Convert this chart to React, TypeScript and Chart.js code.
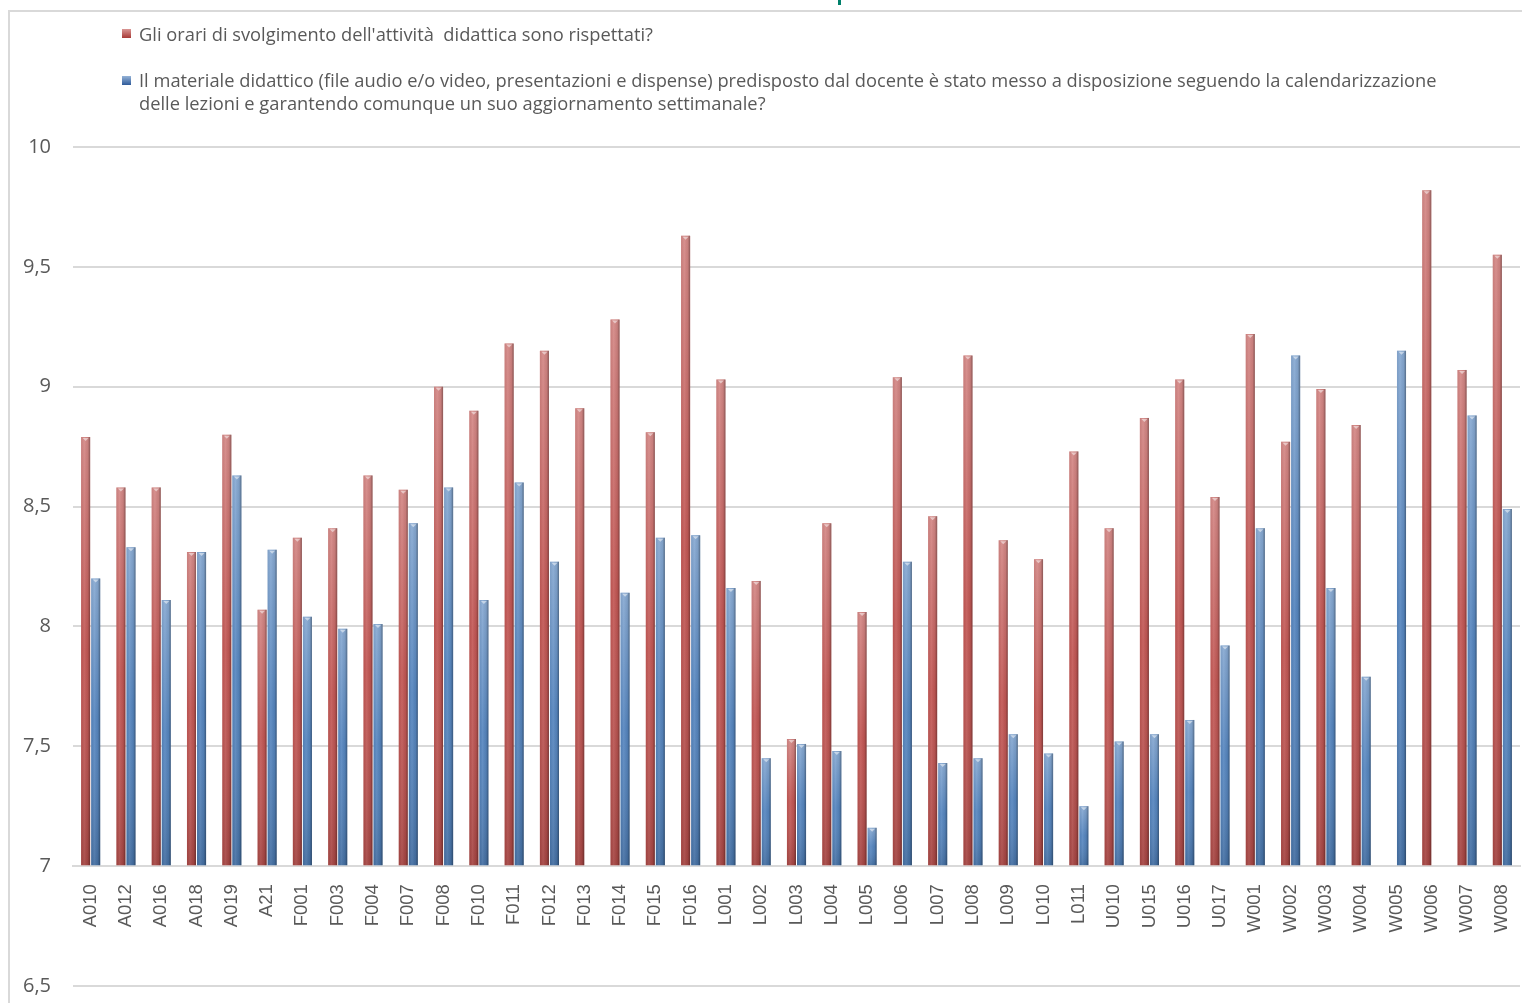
import { useEffect, useRef } from "react"
import { Chart, registerables } from "chart.js"

Chart.register(...registerables)

// categories (course codes)
const categories = [
  "A010", "A012", "A016", "A018", "A019", "A21", "F001", "F003", "F004", "F007",
  "F008", "F010", "F011", "F012", "F013", "F014", "F015", "F016", "L001", "L002",
  "L003", "L004", "L005", "L006", "L007", "L008", "L009", "L010", "L011", "U010",
  "U015", "U016", "U017", "W001", "W002", "W003", "W004", "W005", "W006", "W007", "W008",
]

// "Gli orari ... rispettati?"
const orariValues = [
  8.79, 8.58, 8.58, 8.31, 8.80, 8.07, 8.37, 8.41, 8.63, 8.57,
  9.00, 8.90, 9.18, 9.15, 8.91, 9.28, 8.81, 9.63, 9.03, 8.19,
  7.53, 8.43, 8.06, 9.04, 8.46, 9.13, 8.36, 8.28, 8.73, 8.41,
  8.87, 9.03, 8.54, 9.22, 8.77, 8.99, 8.84, null, 9.82, 9.07, 9.55,
]

// "Il materiale didattico ... settimanale?"
const materialeValues = [
  8.20, 8.33, 8.11, 8.31, 8.63, 8.32, 8.04, 7.99, 8.01, 8.43,
  8.58, 8.11, 8.60, 8.27, null, 8.14, 8.37, 8.38, 8.16, 7.45,
  7.51, 7.48, 7.16, 8.27, 7.43, 7.45, 7.55, 7.47, 7.25, 7.52,
  7.55, 7.61, 7.92, 8.41, 9.13, 8.16, 7.79, 9.15, null, 8.88, 8.49,
]

const seriesNames = [
  "Gli orari di svolgimento dell'attività  didattica sono rispettati?",
  "Il materiale didattico (file audio e/o video, presentazioni e dispense) predisposto dal docente è stato messo a disposizione seguendo la calendarizzazione delle lezioni e garantendo comunque un suo aggiornamento settimanale?",
]

const RED = "#c0504d"
const BLUE = "#4f81bd"
const TEXT = "#595959"
const GRID = "#d9d9d9"

// shading on top of each bar, like the old Excel bevel look
const barShadePlugin = {
  id: "barShade",
  afterDatasetDraw: (chart: Chart, args: any) => {
    const ctx = chart.ctx
    const meta = chart.getDatasetMeta(args.index)
    ctx.save()
    meta.data.forEach((el: any, i: number) => {
      const raw = (chart.data.datasets[args.index].data as any[])[i]
      if (raw == null) return
      const { x, y, base, width } = el.getProps(["x", "y", "base", "width"], true)
      const left = x - width / 2
      const h = base - y
      if (h <= 0) return

      const vg = ctx.createLinearGradient(0, y, 0, base)
      vg.addColorStop(0, "rgba(255,255,255,0.32)")
      vg.addColorStop(0.5, "rgba(255,255,255,0.04)")
      vg.addColorStop(1, "rgba(0,0,0,0.14)")
      ctx.fillStyle = vg
      ctx.fillRect(left, y, width, h)

      const hg = ctx.createLinearGradient(left, 0, left + width, 0)
      hg.addColorStop(0, "rgba(0,0,0,0.05)")
      hg.addColorStop(0.35, "rgba(255,255,255,0.08)")
      hg.addColorStop(0.75, "rgba(0,0,0,0.06)")
      hg.addColorStop(1, "rgba(0,0,0,0.35)")
      ctx.fillStyle = hg
      ctx.fillRect(left, y, width, h)

      // little highlight at the top of the bar
      ctx.fillStyle = "rgba(255,255,255,0.5)"
      ctx.beginPath()
      ctx.moveTo(x - 3, y + 1)
      ctx.lineTo(x + 3, y + 1)
      ctx.lineTo(x, y + 4)
      ctx.closePath()
      ctx.fill()
    })
    ctx.restore()
  },
}

function Legend() {
  const marker = (c1: string, c2: string, top: number) => (
    <div
      style={{
        position: "absolute",
        left: 122,
        top,
        width: 9,
        height: 9,
        background: `linear-gradient(180deg, ${c1}, ${c2})`,
      }}
    />
  )
  const text: React.CSSProperties = {
    position: "absolute",
    left: 139,
    fontFamily: "'Open Sans', sans-serif",
    fontSize: 18.3,
    lineHeight: "23px",
    color: TEXT,
    whiteSpace: "pre",
  }
  return (
    <>
      {marker("#d99694", "#a83a37", 29)}
      <div style={{ ...text, top: 22 }}>{seriesNames[0]}</div>
      {marker("#95b3d7", "#2f5b9a", 76)}
      <div style={{ ...text, top: 68 }}>
        {"Il materiale didattico (file audio e/o video, presentazioni e dispense) predisposto dal docente è stato messo a disposizione seguendo la calendarizzazione"}
        <br />
        {"delle lezioni e garantendo comunque un suo aggiornamento settimanale?"}
      </div>
    </>
  )
}

export default function App() {
  const canvasRef = useRef<HTMLCanvasElement>(null)
  const chartRef = useRef<Chart | null>(null)

  useEffect(() => {
    if (!canvasRef.current) return
    if (chartRef.current) chartRef.current.destroy()

    chartRef.current = new Chart(canvasRef.current, {
      type: "bar",
      data: {
        labels: categories,
        datasets: [
          {
            label: seriesNames[0],
            data: orariValues,
            backgroundColor: RED,
            base: 7,
            categoryPercentage: 0.57,
            barPercentage: 0.9,
          },
          {
            label: seriesNames[1],
            data: materialeValues,
            backgroundColor: BLUE,
            base: 7,
            categoryPercentage: 0.57,
            barPercentage: 0.9,
          },
        ],
      },
      options: {
        animation: false,
        responsive: true,
        maintainAspectRatio: false,
        layout: { padding: { left: 0, right: 2, top: 147, bottom: 17 } },
        plugins: {
          legend: { display: false },
          tooltip: { enabled: false },
        },
        scales: {
          x: {
            position: { y: 7 },
            // the axis sits inside the plot, so its label overflow must not shrink the area
            afterFit: (scale: any) => {
              scale.paddingLeft = 0
              scale.paddingRight = 0
              scale.paddingTop = 0
              scale.paddingBottom = 0
            },
            grid: { display: false },
            border: { color: GRID, width: 2 },
            ticks: {
              autoSkip: false,
              minRotation: 90,
              maxRotation: 90,
              padding: 10,
              color: TEXT,
              font: { family: "'Liberation Sans', Arial, sans-serif", size: 18.5 },
            },
          },
          y: {
            min: 6.5,
            max: 10,
            afterFit: (scale: any) => {
              scale.width = 73
              scale.paddingTop = 0
              scale.paddingBottom = 0
            },
            border: { display: false },
            grid: { color: GRID, lineWidth: 2, drawTicks: false },
            ticks: {
              stepSize: 0.5,
              padding: 22,
              color: TEXT,
              font: { family: "'Open Sans', sans-serif", size: 20 },
              callback: (v: any) => String(v).replace(".", ","),
            },
          },
        },
      } as any,
      plugins: [barShadePlugin],
    })

    return () => {
      if (chartRef.current) {
        chartRef.current.destroy()
        chartRef.current = null
      }
    }
  }, [])

  return (
    <div style={{ position: "fixed", left: 0, top: 0, width: 1522, height: 1003, overflow: "hidden", background: "#fff" }}>
      {/* frame of the original chart object */}
      <div
        style={{
          position: "absolute",
          left: 8,
          top: 10,
          width: 1540,
          height: 1020,
          border: "2px solid #d9d9d9",
        }}
      />
      <div style={{ position: "absolute", left: 838, top: 0, width: 3, height: 5, background: "#00806a" }} />
      <div style={{ position: "absolute", left: 0, top: 0, width: 1522, height: 1003 }}>
        <canvas ref={canvasRef} />
      </div>
      <Legend />
    </div>
  )
}
